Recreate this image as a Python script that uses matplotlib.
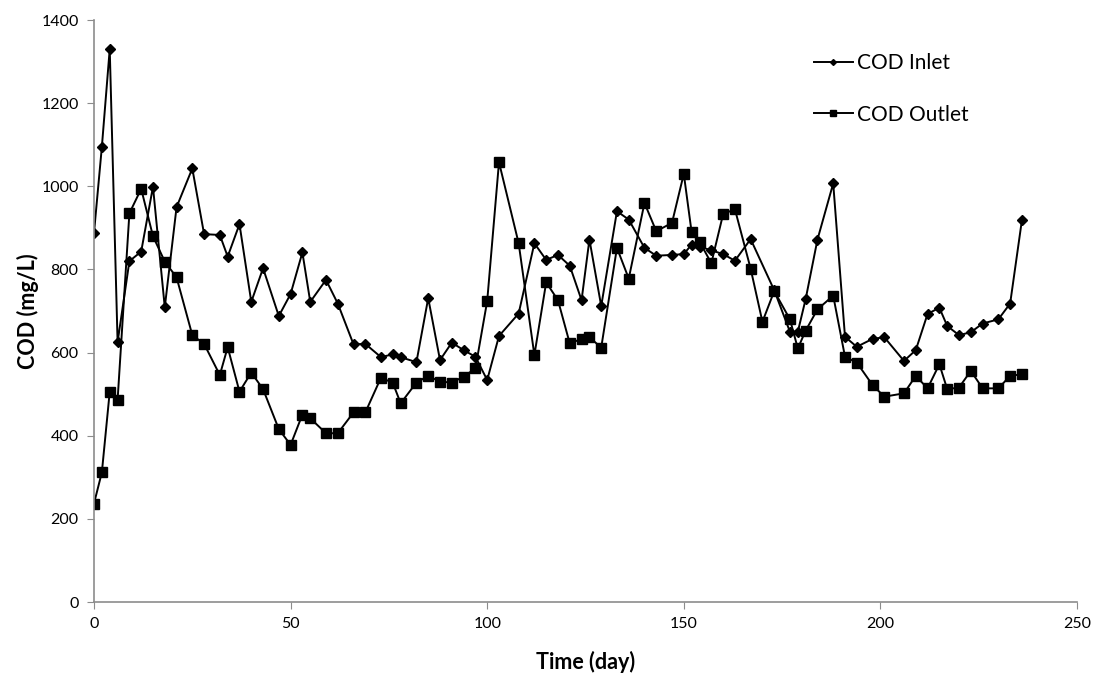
import matplotlib.pyplot as plt

plt.rcParams['font.family'] = ['Lato', 'DejaVu Sans']

# COD inlet (day, mg/L)
inlet_day = [0, 2, 4, 6, 9, 12, 15, 18, 21, 25, 28, 32, 34, 37, 40, 43, 47, 50,
             53, 55, 59, 62, 66, 69, 73, 76, 78, 82, 85, 88, 91, 94, 97, 100,
             103, 108, 112, 115, 118, 121, 124, 126, 129, 133, 136, 140, 143,
             147, 150, 152, 154, 157, 160, 163, 167, 173, 177, 179, 181, 184,
             188, 191, 194, 198, 201, 206, 209, 212, 215, 217, 220, 223, 226,
             230, 233, 236]
inlet_cod = [888, 1095, 1330, 625, 820, 843, 999, 709, 950, 1043, 885, 883, 831,
             909, 722, 803, 688, 741, 841, 722, 775, 718, 620, 621, 589, 596,
             589, 577, 731, 582, 624, 606, 590, 534, 640, 694, 863, 823, 835,
             809, 726, 872, 712, 940, 920, 852, 833, 835, 837, 860, 855, 846,
             837, 821, 873, 750, 650, 650, 729, 872, 1007, 638, 614, 633, 637,
             580, 606, 693, 708, 664, 642, 649, 670, 680, 718, 919]

# COD outlet (day, mg/L)
outlet_day = [0, 2, 4, 6, 9, 12, 15, 18, 21, 25, 28, 32, 34, 37, 40, 43, 47, 50,
              53, 55, 59, 62, 66, 69, 73, 76, 78, 82, 85, 88, 91, 94, 97, 100,
              103, 108, 112, 115, 118, 121, 124, 126, 129, 133, 136, 140, 143,
              147, 150, 152, 154, 157, 160, 163, 167, 170, 173, 177, 179, 181,
              184, 188, 191, 194, 198, 201, 206, 209, 212, 215, 217, 220, 223,
              226, 230, 233, 236]
outlet_cod = [237, 312, 506, 486, 935, 994, 880, 819, 781, 642, 621, 546, 613,
              506, 552, 512, 416, 378, 451, 442, 406, 406, 456, 456, 540, 527,
              478, 528, 544, 530, 528, 542, 562, 724, 1058, 863, 594, 769, 726,
              622, 633, 637, 612, 852, 778, 960, 892, 912, 1030, 889, 867, 815,
              933, 945, 802, 674, 748, 680, 610, 653, 704, 737, 590, 576, 522,
              494, 502, 544, 514, 572, 512, 516, 556, 514, 514, 544, 548]

fig = plt.figure(figsize=(11.02, 6.86), dpi=100)
ax = fig.add_axes([0.0853, 0.1224, 0.892, 0.8484])

ax.plot(inlet_day, inlet_cod, color='black', lw=1.4, marker='D', ms=5,
        label='COD Inlet')
ax.plot(outlet_day, outlet_cod, color='black', lw=1.4, marker='s', ms=6.5,
        label='COD Outlet')

ax.set_xlim(0, 250)
ax.set_ylim(0, 1400)
ax.set_xticks(range(0, 251, 50))
ax.set_yticks(range(0, 1401, 200))

for side in ['top', 'right']:
    ax.spines[side].set_visible(False)
for side in ['left', 'bottom']:
    ax.spines[side].set_color('#8c8c8c')
    ax.spines[side].set_linewidth(1.2)
ax.tick_params(direction='out', length=5, color='#8c8c8c', labelsize=11.5,
               pad=6)

ax.set_xlabel('Time (day)', fontsize=15.5, fontweight='bold', labelpad=14)
ax.set_ylabel('COD (mg/L)', fontsize=15.5, fontweight='bold', labelpad=2)

ax.legend(loc='upper left', bbox_to_anchor=(0.713, 0.975), frameon=False,
          fontsize=15, markerscale=0.6, handlelength=1.9, handletextpad=0.2,
          labelspacing=1.5)

fig.savefig('out.png', dpi=100)
